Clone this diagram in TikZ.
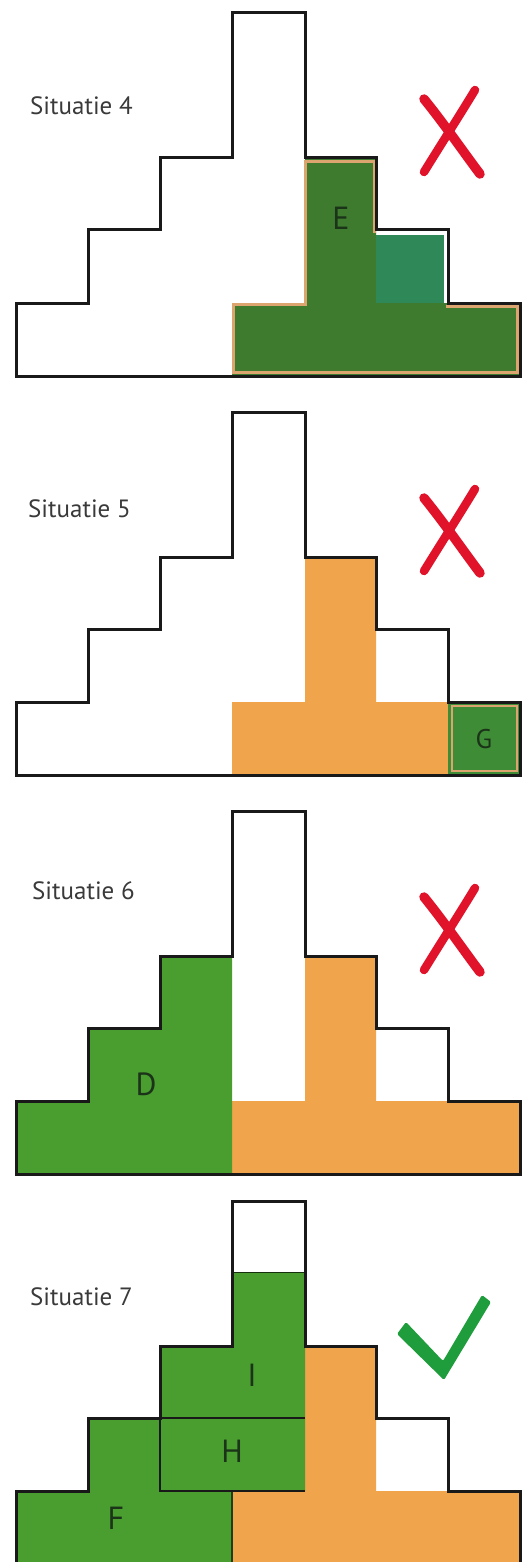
\documentclass[tikz,border=0pt]{standalone}
\usepackage{fontspec}
\setmainfont{PT Sans}
\definecolor{dkgreen}{HTML}{3E7B2F}
\definecolor{tealsq}{HTML}{2F8858}
\definecolor{tanline}{HTML}{DCA46E}
\definecolor{orng}{HTML}{F0A44B}
\definecolor{ltgreen}{HTML}{4A9E30}
\definecolor{ggreen}{HTML}{3F8C36}
\definecolor{crossred}{HTML}{E0132B}
\definecolor{checkgreen}{HTML}{1F9C3C}
\definecolor{lettercol}{HTML}{1B3318}
\definecolor{labelcol}{HTML}{3A3A3A}
\newcommand\stairoutline{\draw[outline] (16,376) -- (16,303) -- (88,303) -- (88,230) -- (160,230) -- (160,158) -- (232,158) -- (232,13) -- (305,13) -- (305,158) -- (376,158) -- (376,230) -- (448,230) -- (448,303) -- (520,303) -- (520,376) -- cycle;}
\newcommand\orangeT{\fill[orng] (305,158) -- (376,158) -- (376,303) -- (520,303) -- (520,376) -- (232,376) -- (232,303) -- (305,303) -- cycle;}
\newcommand\redcross{%
  \draw[crossred, line width=9.5pt, line cap=round] (424,99) .. controls (445,125) and (462,150) .. (480,174);
  \draw[crossred, line width=8.5pt, line cap=round] (475,90) .. controls (458,118) and (440,146) .. (424,172);}
\begin{document}
\begin{tikzpicture}[x=1pt,y=-1pt,
  outline/.style={draw=black!90, line width=3pt, line join=miter},
  lbl/.style={anchor=base west, font=\fontsize{25}{30}\selectfont, text=labelcol, inner sep=0pt},
  letter/.style={font=\fontsize{32}{38}\selectfont, text=lettercol, inner sep=0pt}]
\useasboundingbox (0,0) rectangle (524,1562);
\fill[white] (0,0) rectangle (524,1562);

% ---------- Situatie 4 ----------
\begin{scope}
  \fill[dkgreen] (305,158) -- (376,158) -- (376,303) -- (520,303) -- (520,376) -- (232,376) -- (232,303) -- (305,303) -- cycle;
  \fill[tealsq] (376,235) rectangle (444,303);
  \draw[tanline, line width=3pt] (374,233) -- (374,161.5) -- (305.5,161.5) -- (305.5,304.5) -- (233.5,304.5) -- (233.5,372.5) -- (517,372.5) -- (517,306) -- (446,306);
  \stairoutline
  \node[lbl] (s4) at (30,115) {Situatie 4};
  \node[letter] (nE) at (341,218) {E};
  \redcross
\end{scope}

% ---------- Situatie 5 ----------
\begin{scope}[shift={(0,399)}]
  \orangeT
  \fill[ggreen] (448,303) rectangle (520,376);
  \draw[tanline, line width=2pt] (451.5,306.5) rectangle (517,372);
  \stairoutline
  \node[lbl] (s5) at (28,118) {Situatie 5};
  \node[letter, font=\fontsize{27}{32}\selectfont] (nG) at (484,340) {G};
  \redcross
\end{scope}

% ---------- Situatie 6 ----------
\begin{scope}[shift={(0,798)}]
  \orangeT
  \fill[ltgreen] (16,376) -- (16,303) -- (88,303) -- (88,230) -- (160,230) -- (160,158) -- (232,158) -- (232,376) -- cycle;
  \stairoutline
  \node[lbl] (s6) at (32,101) {Situatie 6};
  \node[letter] (nD) at (146,286) {D};
  \redcross
\end{scope}

% ---------- Situatie 7 ----------
\begin{scope}[shift={(0,1188)}]
  \orangeT
  \fill[ltgreen] (16,376) -- (16,303) -- (88,303) -- (88,230) -- (160,230) -- (160,158) -- (232,158) -- (232,84) -- (305,84) -- (305,303) -- (232,303) -- (232,376) -- cycle;
  \draw[black!70!ltgreen, line width=1pt] (232,84) -- (305,84);
  \draw[black!60!ltgreen, line width=1.2pt] (232,303) -- (232,376);
  \draw[black!90, line width=2pt] (305,230) -- (160,230) -- (160,303) -- (305,303);
  \stairoutline
  \node[lbl] (s7) at (30,117) {Situatie 7};
  \node[letter] (nI) at (252,187) {I};
  \node[letter] (nH) at (232,263) {H};
  \node[letter] (nF) at (116,330) {F};
\end{scope}

% check mark
\fill[checkgreen, rounded corners=1.5pt] (397,1334) -- (406,1322) -- (443,1361) -- (482,1295) -- (491,1302) -- (444,1380) -- cycle;
\end{tikzpicture}
\end{document}
